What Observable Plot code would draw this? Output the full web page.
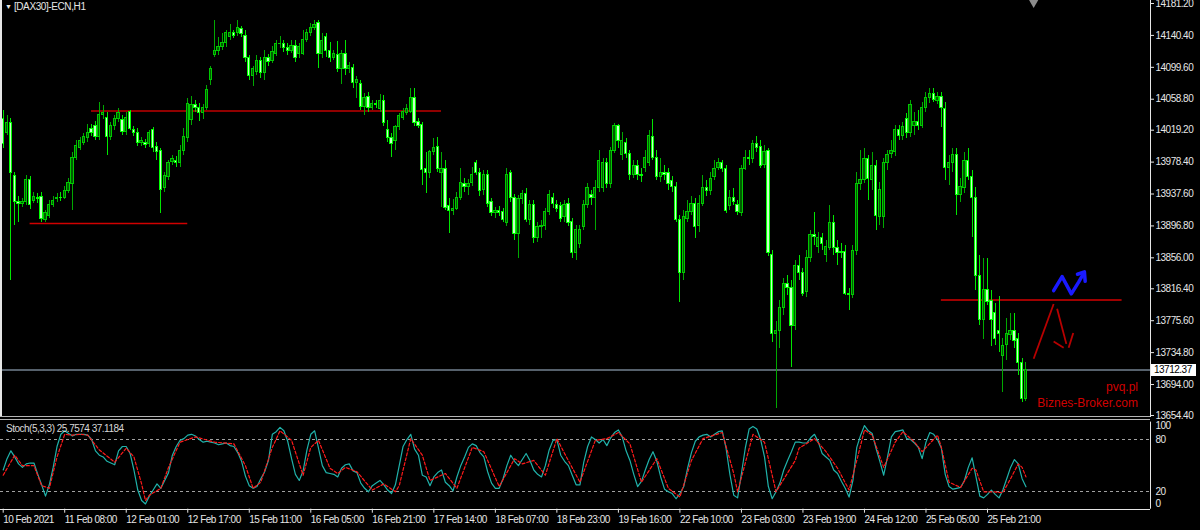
<!DOCTYPE html>
<html><head><meta charset="utf-8">
<script src="https://cdn.jsdelivr.net/npm/d3@7"></script>
<script src="https://cdn.jsdelivr.net/npm/@observablehq/plot@0.6"></script>
<style>
html,body{margin:0;padding:0;background:#000;}
#chart{position:relative;width:1200px;height:530px;background:#000;overflow:hidden;font-family:"Liberation Sans",Arial,sans-serif;}
.abs{position:absolute;white-space:nowrap;}
</style></head><body><div id="chart"></div>
<script>
// ---- DAX30 H1 candles (bar index 0..266) ----
const open = [14034,14016,14028,13961,13928,13925,13927,13956,13929,13933,
13934,13905,13910,13924,13931,13933,13933,13942,13951,13984,
13997,14003,14009,14021,14024,14010,14038,14035,14011,14024,
14033,14032,14017,14042,14019,14016,14003,14003,14001,14019,
13998,13992,13945,13959,13978,13980,13977,13992,14009,14032,
14051,14047,14041,14048,14083,14115,14120,14125,14131,14139,
14143,14143,14148,14140,14111,14089,14094,14108,14092,14111,
14108,14117,14129,14130,14124,14121,14127,14117,14117,14135,
14143,14150,14156,14117,14139,14121,14112,14115,14097,14116,
14098,14099,14080,14078,14049,14062,14048,14053,14046,14056,
14020,14009,14006,14023,14035,14041,14043,14061,14030,14026,
13969,13964,13991,13998,13965,13969,13922,13916,13919,13933,
13951,13946,13952,13977,13965,13943,13962,13927,13913,13916,
13915,13900,13964,13932,13887,13931,13938,13905,13923,13881,
13895,13897,13914,13933,13923,13922,13908,13925,13902,13862,
13874,13895,13924,13936,13933,13945,13945,13977,13951,13993,
14024,13987,14003,13989,13962,13974,13962,13971,13977,14011,
13984,13959,13965,13964,13954,13947,13905,13836,13906,13914,
13925,13897,13925,13945,13942,13959,13971,13977,13969,13922,
13932,13923,13913,13970,13984,13982,14002,13998,13975,13993,
13860,13759,13763,13792,13823,13817,13769,13846,13836,13812,
13856,13885,13870,13881,13859,13869,13901,13868,13864,13863,
13810,13809,13865,13950,13956,13983,13956,13974,13908,13908,
13977,13989,13991,14019,14012,14034,14015,14025,14030,14025,
14047,14060,14066,14057,14062,14046,13971,13977,13987,13936,
13945,13980,13959,13932,13833,13776,13815,13801,13785,13762,
13731,13744,13757,13763,13752,13722,13676];
const high = [14044,14038,14034,13965,13934,13932,13961,13960,13940,13938,
13940,13916,13929,13934,13938,13940,13947,13957,13991,14006,
14010,14015,14026,14026,14030,14054,14051,14042,14029,14038,
14047,14038,14042,14044,14024,14021,14010,14007,14019,14023,
14003,13996,13965,13980,13987,13986,13999,14021,14060,14062,
14057,14053,14052,14076,14101,14159,14138,14143,14147,14154,
14147,14159,14152,14147,14115,14101,14115,14112,14121,14116,
14126,14134,14139,14134,14130,14134,14134,14130,14147,14148,
14156,14159,14159,14143,14143,14131,14121,14133,14121,14134,
14106,14103,14088,14083,14066,14067,14057,14057,14065,14064,
14032,14015,14025,14041,14047,14052,14073,14072,14034,14029,
13991,13993,14009,14010,13991,13980,13932,13931,13940,13970,
13957,13956,13971,13980,13970,13968,13968,13932,13920,13922,
13919,13970,13968,13937,13936,13942,13945,13929,13929,13901,
13904,13919,13942,13938,13929,13927,13929,13932,13906,13897,
13897,13929,13951,13942,13955,13993,13983,13983,13997,14028,
14026,14016,14009,13993,13980,13980,13970,13993,14019,14033,
13993,13983,13974,13970,13960,13952,13910,13916,13929,13934,
13932,13936,13961,13955,13965,13980,13983,13980,13974,13942,
13945,13929,13974,13993,13993,14006,14011,14006,13999,13996,
13865,13775,13801,13830,13833,13827,13853,13859,13842,13865,
13891,13914,13888,13887,13878,13923,13910,13878,13874,13872,
13817,13872,13965,13993,13996,13987,13991,13980,13952,13983,
13993,14006,14025,14025,14029,14041,14057,14042,14044,14054,
14067,14073,14073,14067,14067,14054,13987,13996,13996,13957,
13991,13996,13968,13946,13859,13855,13855,13814,13798,13807,
13753,13778,13785,13785,13759,13727,13722];
const low = [13996,14012,13827,13897,13901,13920,13923,13918,13925,13925,
13901,13901,13906,13920,13927,13928,13931,13938,13916,13980,
13993,13999,14003,14011,14006,14006,14033,13987,14006,14019,
14029,14012,14013,14019,14011,13998,13998,13996,13997,13991,
13980,13913,13940,13955,13974,13971,13971,13987,14003,14025,
14042,14030,14033,14044,14076,14112,14115,14121,14125,14134,
14136,14139,14138,14106,14083,14075,14089,14085,14083,14101,
14104,14113,14124,14119,14115,14117,14106,14111,14115,14131,
14139,14147,14098,14111,14112,14106,14108,14093,14078,14089,
14092,14073,14060,14044,14038,14042,14044,14047,14042,14024,
14003,13984,13993,14019,14032,14038,14041,14024,14021,13948,
13938,13957,13987,13965,13920,13916,13887,13910,13916,13929,
13940,13936,13947,13961,13934,13936,13920,13909,13906,13909,
13901,13896,13927,13878,13855,13924,13901,13897,13874,13876,
13881,13891,13910,13919,13914,13901,13901,13896,13855,13853,
13868,13891,13919,13923,13891,13940,13940,13945,13945,13989,
13996,13980,13983,13955,13957,13955,13952,13965,13973,13980,
13955,13952,13955,13942,13940,13901,13799,13827,13901,13910,
13881,13888,13922,13934,13936,13955,13968,13965,13913,13916,
13923,13910,13909,13968,13974,13977,13991,13970,13970,13858,
13748,13663,13740,13782,13808,13716,13763,13827,13807,13805,
13850,13872,13862,13865,13850,13865,13859,13846,13855,13808,
13789,13804,13859,13942,13951,13929,13942,13891,13897,13894,
13968,13983,13986,14006,14006,14009,14010,14012,14019,14021,
14042,14053,14054,14052,14023,13955,13948,13965,13910,13927,
13938,13955,13882,13814,13769,13752,13795,13743,13744,13735,
13684,13725,13750,13740,13705,13671,13672];
const close = [14002,14028,13964,13927,13925,13928,13956,13923,13934,13931,
13906,13913,13924,13929,13933,13932,13942,13952,13984,13999,
14005,14010,14016,14015,14010,14038,14041,14011,14024,14033,
14041,14017,14035,14021,14016,14003,14006,14000,14015,13996,
13991,13943,13960,13977,13982,13977,13993,14010,14053,14052,
14047,14041,14047,14070,14097,14121,14125,14131,14143,14144,
14140,14150,14142,14111,14089,14097,14108,14092,14111,14106,
14119,14129,14130,14124,14121,14127,14111,14125,14134,14143,
14150,14154,14117,14133,14120,14112,14116,14098,14116,14098,
14101,14080,14083,14049,14061,14048,14053,14051,14057,14029,
14009,14002,14023,14037,14042,14046,14060,14029,14025,13968,
13964,13991,13997,13970,13970,13920,13916,13919,13933,13952,
13946,13950,13962,13965,13942,13962,13925,13913,13916,13913,
13905,13962,13932,13887,13931,13937,13905,13923,13881,13895,
13897,13914,13936,13925,13919,13906,13924,13901,13862,13892,
13892,13924,13945,13932,13945,13980,13977,13950,13993,14025,
14006,14006,13989,13962,13974,13962,13960,13984,14012,13984,
13959,13965,13962,13951,13946,13904,13836,13908,13914,13925,
13895,13925,13945,13942,13957,13970,13977,13969,13916,13933,
13928,13914,13970,13984,13982,14002,13997,13974,13991,13862,
13759,13763,13792,13823,13817,13769,13846,13836,13810,13856,
13885,13882,13881,13874,13870,13901,13868,13862,13862,13810,
13809,13865,13951,13956,13982,13957,13974,13910,13943,13977,
13988,13993,14019,14012,14023,14015,14051,14030,14025,14047,
14061,14066,14058,14062,14047,13971,13977,13987,13936,13946,
13980,13959,13933,13833,13776,13815,13799,13776,13752,13759,
13743,13759,13763,13750,13721,13676,13712.37];

// ---- Stochastic(5,3,3) ----
const kValues = [45,58,67,60,52,48,52,53,53,40,
28,15,28,48,72,86,90,87,84,86,
86,86,85,80,67,62,60,55,53,51,
67,72,72,64,45,22,10,6,15,22,
29,24,33,42,62,72,79,81,85,86,
84,80,77,78,77,76,74,75,76,73,
72,65,55,38,27,24,26,35,43,56,
86,89,94,90,78,58,40,33,44,68,
86,90,70,50,42,41,40,37,47,51,
52,44,42,30,24,20,27,30,33,28,
22,18,28,50,72,80,86,69,62,39,
37,27,37,42,45,31,27,21,37,50,
60,71,75,73,65,60,43,30,24,24,
35,50,62,55,50,57,64,56,45,40,
37,50,68,79,80,62,55,50,39,28,
28,54,72,83,80,76,80,73,82,88,
91,83,67,56,40,26,32,45,57,66,
55,37,23,20,18,12,18,26,47,65,
78,83,85,86,83,86,89,90,70,40,
16,13,41,70,92,95,92,80,60,26,
12,20,30,45,56,66,77,77,76,76,
82,86,77,64,60,56,45,41,32,24,
14,33,71,85,96,90,87,70,55,39,
60,83,89,90,91,81,80,76,71,58,
77,88,86,80,70,40,26,23,24,25,
33,48,59,37,15,13,17,22,17,13,
22,35,48,57,52,35,25.7574];
const dBars = [0,3,5,8,10,12,14,16,18,20,22,25,29,32,34,36,37,38,41,43,46,50,55,60,63,65,67,70,72,75,78,80,82,85,87,89,92,96,99,102,103,106,109,111,115,118,122,125,129,133,135,138,141,144,146,150,154,157,160,163,166,170,173,176,179,182,187,190,191,195,198,201,206,207,211,214,217,220,222,224,226,229,232,234,237,239,243,244,246,249,252,253,255,257,260,262,264,265,266];
const dVals = [39,62,50,50,27,24,60,86,85,86,85,68,54,70,60,29,10,16,24,48,77,83,77,75,50,24,31,71,90,79,39,71,79,47,41,48,43,22,29,20,27,81,62,33,41,24,71,66,26,58,52,56,39,81,64,31,79,81,88,75,31,58,24,14,56,81,88,41,20,86,77,20,56,70,81,66,47,22,56,91,85,48,77,89,77,66,85,71,31,25,47,45,20,20,19,35,52,48,37.1184];
const stochLevels = [80, 20];

// ---- axes ----
const priceTicks = [14181.20,14140.40,14099.60,14058.80,14019.20,13978.40,13937.60,13896.80,13856.00,13816.40,13775.60,13734.80,13694.00,13654.40];
const timeLabelBars = [0,16,32,48,64,80,96,112,128,144,160,176,192,208,224,240,256];
const timeLabels = ["10 Feb 2021","11 Feb 08:00","12 Feb 01:00","12 Feb 17:00","15 Feb 11:00","16 Feb 05:00","16 Feb 21:00","17 Feb 14:00","18 Feb 07:00","18 Feb 23:00","19 Feb 16:00","22 Feb 10:00","23 Feb 03:00","23 Feb 19:00","24 Feb 12:00","25 Feb 05:00","25 Feb 21:00"];

// ---- drawn objects ----
const levelFrom = [7, 23, 244];
const levelTo = [48, 114, 291];
const levelPrice = [13900, 14043.5, 13802];
const lastClose = 13712.37;
const blueBar = [273.2, 275.4, 277.8, 279.7, 281.0];
const bluePrice = [13814, 13832, 13810, 13825, 13836];
const blueHeadBar = [279.4, 281.2, 281.4];
const blueHeadPrice = [13835, 13838, 13826];
const redFromBar = [268.0, 274.1, 273.2, 278.3];
const redFromPrice = [13727, 13791, 13749, 13760];
const redToBar = [273.2, 276.5, 275.8, 277.1];
const redToPrice = [13797, 13746, 13741, 13741];
const markerBar = [268];
const markerPrice = [14186];

// ---- build ----
const bars = open.map((o, i) => ({i, o, h: high[i], l: low[i], c: close[i]}));
const up = d => d.c >= d.o;
const xDomain = [-0.702, 298.39];
const yDomain = [13651.84, 14185.04];
const fontStyle = {background: "transparent", color: "#e6e6e6", fontFamily: "'Liberation Sans', Arial, sans-serif", fontSize: "10px", letterSpacing: "-0.5px", overflow: "visible"};
const levels = levelPrice.map((p, j) => ({p, a: levelFrom[j], b: levelTo[j]}));
const blue = blueBar.map((b, j) => ({b, p: bluePrice[j]}));
const blueHead = blueHeadBar.map((b, j) => ({b, p: blueHeadPrice[j]}));
const reds = redFromBar.map((b, j) => ({x1: b, y1: redFromPrice[j], x2: redToBar[j], y2: redToPrice[j]}));
const markers = markerBar.map((b, j) => ({b, p: markerPrice[j]}));
const labelOf = new Map(timeLabelBars.map((b, j) => [b, timeLabels[j]]));

const main = Plot.plot({
  width: 1200, height: 417,
  marginLeft: 0, marginRight: 50, marginTop: 0, marginBottom: 0,
  x: {domain: xDomain, axis: null, label: null},
  y: {domain: yDomain, label: null},
  style: fontStyle,
  marks: [
    Plot.ruleY([levels[0]], {y: "p", x1: "a", x2: "b", stroke: "#d00000", strokeWidth: 1.5}),
    Plot.ruleY([levels[1]], {y: "p", x1: "a", x2: "b", stroke: "#900000", strokeWidth: 2, shapeRendering: "crispEdges"}),
    Plot.ruleY([levels[2]], {y: "p", x1: "a", x2: "b", stroke: "#d40000", strokeWidth: 1.5}),
    Plot.ruleY([lastClose], {stroke: "#56616c", strokeWidth: 2, shapeRendering: "crispEdges"}),
    Plot.ruleX(bars, {x: "i", y1: "l", y2: "h", stroke: d => up(d) ? "#00a800" : "#00e600", strokeWidth: 1, shapeRendering: "crispEdges"}),
    Plot.rect(bars, {x1: d => d.i - 0.3, x2: d => d.i + 0.3, y1: "o", y2: "c",
      fill: d => up(d) ? "#005c00" : "#c8ffc8", stroke: d => up(d) ? "#00c800" : "#00ff00", strokeWidth: 1, shapeRendering: "crispEdges"}),
    Plot.line(blue, {x: "b", y: "p", stroke: "#1a1aff", strokeWidth: 3.5, strokeLinejoin: "round", strokeLinecap: "round"}),
    Plot.line(blueHead, {x: "b", y: "p", stroke: "#1a1aff", strokeWidth: 3.5, strokeLinejoin: "round", strokeLinecap: "round"}),
    Plot.link(reds, {x1: "x1", y1: "y1", x2: "x2", y2: "y2", stroke: "#b80000", strokeWidth: 1.8}),
    Plot.dot(markers, {x: "b", y: "p", symbol: "diamond", r: 5, fill: "#8c8c8c"}),
    Plot.ruleX([xDomain[1]], {stroke: "#e6e6e6", strokeWidth: 1}),
    Plot.axisY(priceTicks, {anchor: "right", tickSize: 3, tickPadding: 2, tickFormat: d => d.toFixed(2), color: "#e6e6e6", label: null})
  ]
});

const kPts = kValues.map((v, i) => ({b: i, v}));
const dPts = dBars.map((b, j) => ({b, v: dVals[j]}));

const stoch = Plot.plot({
  width: 1200, height: 113,
  marginLeft: 0, marginRight: 50, marginTop: 4.6, marginBottom: 21.3,
  x: {domain: xDomain, label: null},
  y: {domain: [0, 100], axis: null, label: null},
  style: fontStyle,
  marks: [
    Plot.ruleY(stochLevels, {stroke: "#a0a0a0", strokeDasharray: "3,3", shapeRendering: "crispEdges"}),
    Plot.line(kPts, {x: "b", y: "v", stroke: "#20b2aa", strokeWidth: 1.2}),
    Plot.line(dPts, {x: "b", y: "v", stroke: "#ff1a1a", strokeWidth: 1.2, strokeDasharray: "3,2"}),
    Plot.ruleY([0], {stroke: "#e6e6e6", shapeRendering: "crispEdges"}),
    Plot.ruleX([xDomain[1]], {stroke: "#e6e6e6"}),
    Plot.axisX(timeLabelBars, {anchor: "bottom", tickSize: 4, tickPadding: 3, tickFormat: d => labelOf.get(d), textAnchor: "start", color: "#e6e6e6", label: null}),
    Plot.text([100], {y: d => d, text: d => String(d), frameAnchor: "right", dx: 5, dy: 4, textAnchor: "start", fill: "#e6e6e6"}),
    Plot.text(stochLevels, {y: d => d, text: d => String(d), frameAnchor: "right", dx: 5, textAnchor: "start", fill: "#e6e6e6"}),
    Plot.text([0], {y: d => d, text: d => String(d), frameAnchor: "right", dx: 5, dy: -5, textAnchor: "start", fill: "#e6e6e6"})
  ]
});

const chart = document.getElementById("chart");
function place(el, left, top) {
  const w = document.createElement("div");
  w.className = "abs"; w.style.left = left + "px"; w.style.top = top + "px";
  w.appendChild(el); chart.appendChild(w); return w;
}
place(main, 0, 0);
place(stoch, 0, 417);

function label(html, css) {
  const d = document.createElement("div");
  d.className = "abs"; d.innerHTML = html; Object.assign(d.style, css); chart.appendChild(d); return d;
}
// left edge line and panel separator
label("", {left: "0px", top: "0px", width: "2px", height: "416px", background: "#e6e6e6"});
label("", {left: "0px", top: "416px", width: "1150px", height: "1px", background: "#b4b4b4"});
label("", {left: "0px", top: "419px", width: "1150px", height: "1px", background: "#b4b4b4"});
// title
label('<span style="font-size:7px;vertical-align:1px">&#9660;</span>&nbsp;[DAX30]-ECN,H1', {left: "5px", top: "1px", color: "#e6e6e6", fontSize: "10px", letterSpacing: "-0.4px"});
// stochastic header
label("Stoch(5,3,3) 25.7574 37.1184", {left: "6px", top: "423px", color: "#d8d8d8", fontSize: "10px", letterSpacing: "-0.5px"});
// watermark
label("pvq.pl", {right: "62px", top: "380px", color: "#d00000", fontSize: "12px"});
label("Biznes-Broker.com", {right: "62px", top: "396px", color: "#d00000", fontSize: "12px"});
// current price box
const yp = main.scale("y").apply(lastClose);
label(lastClose.toFixed(2), {left: "1151px", top: (yp - 6) + "px", width: "42px", height: "12px", lineHeight: "12px", background: "#ffffff", color: "#000", fontSize: "10px", letterSpacing: "-0.5px", paddingLeft: "3px"});
</script></body></html>
